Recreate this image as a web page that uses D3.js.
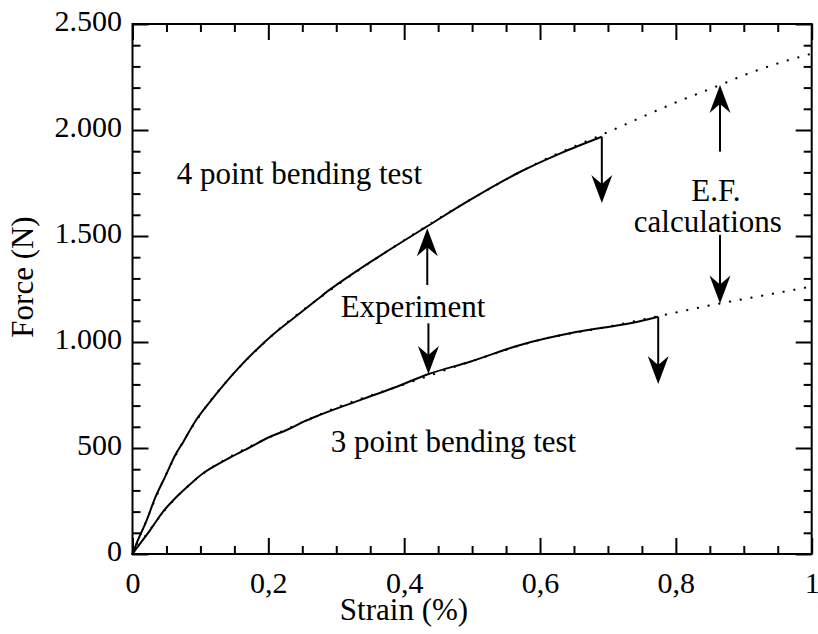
<!DOCTYPE html>
<html><head><meta charset="utf-8">
<script src="https://cdn.jsdelivr.net/npm/d3@7/dist/d3.min.js"></script>
<style>
html,body{margin:0;padding:0;background:#fff;}
svg{display:block;}
svg text{font-family:"Liberation Serif","Times New Roman",serif !important;}
</style></head>
<body><svg id="c" width="818" height="634"></svg>
<script>
// ---- data (strain %, force N) ----
const exp4Strain = [0,0.006,0.021,0.033,0.048,0.063,0.075,0.092,0.114,0.134,0.158,0.183,0.207,0.237,0.271,0.291,0.325,0.374,0.433,0.497,0.571,0.630,0.691];
const exp4Force  = [0,50,160,262,364,467,530,624,718,797,884,965,1035,1112,1198,1248,1324,1426,1544,1670,1803,1890,1968];
const exp3Strain = [0,0.006,0.026,0.045,0.065,0.082,0.104,0.124,0.144,0.168,0.2025,0.227,0.252,0.276,0.335,0.389,0.436,0.497,0.571,0.644,0.718,0.733,0.774];
const exp3Force  = [0,27,113,200,270,321,381,420,456,495,553,585,624,656,726,789,849,907,986,1041,1080,1088,1119];
const ef4Strain = [0,0.02,0.05,0.1,0.15,0.2,0.3,0.4,0.5,0.6,0.7,0.8,0.865,0.9,0.958,1.0];
const ef4Force  = [0,155,380,658,855,1015,1265,1480,1676,1850,1990,2130,2212,2258,2322,2360];
const ef3Strain = [0,0.02,0.05,0.1,0.15,0.2,0.3,0.4,0.5,0.6,0.7,0.782,0.865,0.93,1.0];
const ef3Force  = [0,90,215,370,470,548,690,800,910,1010,1072,1127,1182,1220,1262];
// fracture drops: [strain, fromForce, toForce]
const fractures = [[0.691,1968,1656],[0.774,1119,802]];
// annotation arrows: [strain, tailForce, tipForce]
const arrows = [[0.434,1269,1536],[0.4357,1088,849],[0.865,1898,2212],[0.865,1505,1182]];
const xTicks = [0,0.2,0.4,0.6,0.8,1];
const yTicks = [0,500,1000,1500,2000,2500];
const labels = [
  {text:"4 point bending test", s:0.065, f:1745, anchor:"start"},
  {text:"3 point bending test", s:0.292, f:480, anchor:"start"},
  {text:"Experiment", s:0.413, f:1120, anchor:"middle"},
  {text:"E.F.", s:0.859, f:1665, anchor:"middle"},
  {text:"calculations", s:0.847, f:1519, anchor:"middle"}
];
const xTitle = "Strain (%)";
const yTitle = "Force (N)";

// ---- drawing ----
const SERIF = '"Liberation Serif","Times New Roman",serif';
const svg = d3.select("#c");
const x = d3.scaleLinear().domain([0,1]).range([132.5,811.7]);
const y = d3.scaleLinear().domain([0,2500]).range([554,24]);
const loc = d3.formatLocale({decimal:",",thousands:".",grouping:[3],currency:["",""]});
const fx = loc.format("~g"), fy = loc.format(",d");
const font = 30;

function ticksAxis(axis, pos, major, minor){
  const g1 = svg.append("g").attr("transform",pos).call(axis.tickValues(major).tickSizeInner(-16).tickSizeOuter(0));
  const g2 = svg.append("g").attr("transform",pos).call(axis.tickValues(minor).tickSizeInner(-8).tickSizeOuter(0).tickFormat(""));
  [g1,g2].forEach(g=>{
    g.attr("font-family",SERIF).attr("font-size",font);
    g.select(".domain").remove();
    g.selectAll("line").attr("stroke","#000").attr("stroke-width",2);
  });
  g2.selectAll("text").remove();
  return g1;
}
const xMinor = d3.range(0,1.0001,0.05).filter(v=>Math.abs(v*5-Math.round(v*5))>1e-6);
const yMinor = d3.range(0,2501,100).filter(v=>v%500!==0);

const gb = ticksAxis(d3.axisBottom(x).tickFormat(fx),"translate(0,554)",xTicks,xMinor);
gb.selectAll("text").attr("y",39).attr("dy",null).attr("font-size",font).style("font-family",SERIF).attr("fill","#000");
ticksAxis(d3.axisTop(x).tickFormat(""),"translate(0,24)",xTicks,xMinor).selectAll("text").remove();
const gl = ticksAxis(d3.axisLeft(y).tickFormat(fy),"translate(132.5,0)",yTicks,yMinor);
gl.selectAll("text").attr("x",-10.5).attr("dy",null).attr("y",6).attr("font-size",font).style("font-family",SERIF).attr("fill","#000");
ticksAxis(d3.axisRight(y).tickFormat(""),"translate(811.7,0)",yTicks,yMinor).selectAll("text").remove();

svg.append("rect").attr("x",x(0)).attr("y",y(2500)).attr("width",x(1)-x(0)).attr("height",y(0)-y(2500))
  .attr("fill","none").attr("stroke","#000").attr("stroke-width",2);

const line = d3.line().x(d=>x(d[0])).y(d=>y(d[1])).curve(d3.curveMonotoneX);
const zip = (a,b)=>a.map((v,i)=>[v,b[i]]);
// EF dotted
[zip(ef4Strain,ef4Force),zip(ef3Strain,ef3Force)].forEach(d=>{
  svg.append("path").attr("d",line(d)).attr("fill","none").attr("stroke","#000")
    .attr("stroke-width",2.2).attr("stroke-dasharray","0.1 10.8").attr("stroke-linecap","round");
});
// experiment solid
[zip(exp4Strain,exp4Force),zip(exp3Strain,exp3Force)].forEach(d=>{
  svg.append("path").attr("d",line(d)).attr("fill","none").attr("stroke","#000").attr("stroke-width",2).attr("stroke-linejoin","round");
});

function arrow(s,f0,f1){
  const X=x(s), Y0=y(f0), Y1=y(f1);
  const dir = Y1<Y0 ? -1 : 1; // -1 up
  svg.append("line").attr("x1",X).attr("x2",X).attr("y1",Y0).attr("y2",Y1-dir*18).attr("stroke","#000").attr("stroke-width",2);
  const L=28, W=10.5, N=19;
  svg.append("path").attr("d",`M${X},${Y1} L${X-W},${Y1-dir*L} L${X},${Y1-dir*N} L${X+W},${Y1-dir*L} Z`).attr("fill","#000");
}
fractures.forEach(d=>arrow(d[0],d[1],d[2]));
arrows.forEach(d=>arrow(d[0],d[1],d[2]));

labels.forEach(l=>{
  svg.append("text").attr("x",x(l.s)).attr("y",y(l.f)).attr("text-anchor",l.anchor).attr("font-size",31).style("font-family",SERIF).attr("fill","#000").text(l.text);
});
svg.append("text").attr("x",404).attr("y",620).attr("text-anchor","middle").attr("font-size",31).style("font-family",SERIF).text(xTitle);
svg.append("text").attr("transform","translate(33,277) rotate(-90)").attr("text-anchor","middle").attr("font-size",31).style("font-family",SERIF).text(yTitle);
</script></body></html>
